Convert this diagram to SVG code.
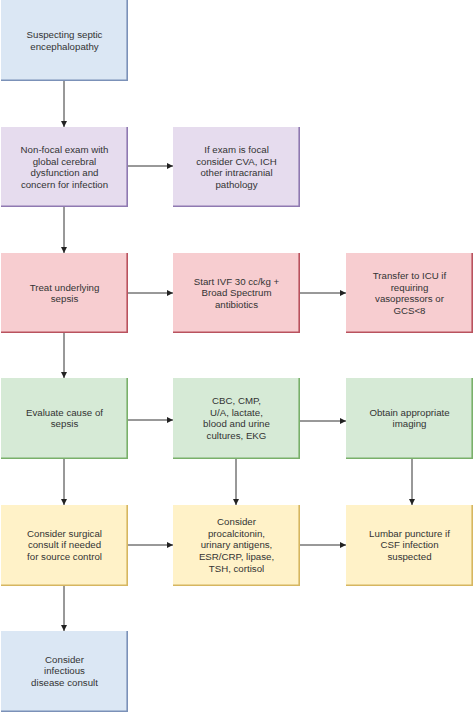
<svg xmlns="http://www.w3.org/2000/svg" width="474" height="712" viewBox="0 0 474 712">
<style>
.t{font-family:"Liberation Sans",Arial,sans-serif;font-size:9.7px;fill:#333;text-anchor:middle}
.e{fill:none;stroke-width:1.6}
.blue rect{fill:#dbe7f4}.blue path{stroke:#7b91b8}
.purple rect{fill:#e6dcee}.purple path{stroke:#8f79b1}
.red rect{fill:#f7cdd0}.red path{stroke:#b9525e}
.green rect{fill:#d6ead6}.green path{stroke:#79b06a}
.yellow rect{fill:#fff2c8}.yellow path{stroke:#d6b660}
.c line{stroke:#333;stroke-width:1;marker-end:url(#ah)}
</style>
<defs>
<marker id="ah" markerWidth="6" markerHeight="6" refX="6" refY="3" orient="auto" markerUnits="userSpaceOnUse">
<path d="M0,0 L6,3 L0,6 Z" fill="#222"/>
</marker>
</defs>
<rect width="474" height="712" fill="#fff"/>
<g class="c" id="connectors">
<line x1="64" y1="81" x2="64" y2="127"/>
<line x1="128" y1="166" x2="173" y2="166"/>
<line x1="64" y1="207" x2="64" y2="253"/>
<line x1="128" y1="293" x2="173" y2="293"/>
<line x1="300" y1="293" x2="346" y2="293"/>
<line x1="64" y1="333" x2="64" y2="378"/>
<line x1="128" y1="420" x2="173" y2="420"/>
<line x1="300" y1="421" x2="346" y2="421"/>
<line x1="64" y1="459" x2="64" y2="505"/>
<line x1="236" y1="459" x2="236" y2="505"/>
<line x1="412" y1="459" x2="412" y2="505"/>
<line x1="128" y1="545" x2="173" y2="545"/>
<line x1="300" y1="545" x2="346" y2="545"/>
<line x1="64" y1="586" x2="64" y2="631"/>
</g>
<g id="n1" class="blue"><rect x="1" y="0" width="127" height="81"/><path class="e" d="M127.2,0 V80.2 H1"/>
<text class="t" x="64.5" y="38.05">Suspecting septic<tspan x="64.5" dy="11.7">encephalopathy</tspan></text></g>
<g id="n2" class="purple"><rect x="1" y="127" width="127" height="80"/><path class="e" d="M127.2,127 V206.2 H1"/>
<text class="t" x="64.5" y="152.85">Non-focal exam with<tspan x="64.5" dy="11.7">global cerebral</tspan><tspan x="64.5" dy="11.7">dysfunction and</tspan><tspan x="64.5" dy="11.7">concern for infection</tspan></text></g>
<g id="n3" class="purple"><rect x="173" y="127" width="127" height="80"/><path class="e" d="M299.2,127 V206.2 H173"/>
<text class="t" x="236.5" y="152.85">If exam is focal<tspan x="236.5" dy="11.7">consider CVA, ICH</tspan><tspan x="236.5" dy="11.7">other intracranial</tspan><tspan x="236.5" dy="11.7">pathology</tspan></text></g>
<g id="n4" class="red"><rect x="1" y="253" width="127" height="80"/><path class="e" d="M127.2,253 V332.2 H1"/>
<text class="t" x="64.5" y="290.55">Treat underlying<tspan x="64.5" dy="11.7">sepsis</tspan></text></g>
<g id="n5" class="red"><rect x="173" y="253" width="127" height="80"/><path class="e" d="M299.2,253 V332.2 H173"/>
<text class="t" x="236.5" y="284.7">Start IVF 30 cc/kg +<tspan x="236.5" dy="11.7">Broad Spectrum</tspan><tspan x="236.5" dy="11.7">antibiotics</tspan></text></g>
<g id="n6" class="red"><rect x="346" y="253" width="127" height="80"/><path class="e" d="M472.2,253 V332.2 H346"/>
<text class="t" x="409.5" y="278.85">Transfer to ICU if<tspan x="409.5" dy="11.7">requiring</tspan><tspan x="409.5" dy="11.7">vasopressors or</tspan><tspan x="409.5" dy="11.7">GCS&lt;8</tspan></text></g>
<g id="n7" class="green"><rect x="1" y="378" width="127" height="81"/><path class="e" d="M127.2,378 V458.2 H1"/>
<text class="t" x="64.5" y="415.55">Evaluate cause of<tspan x="64.5" dy="11.7">sepsis</tspan></text></g>
<g id="n8" class="green"><rect x="173" y="378" width="127" height="81"/><path class="e" d="M299.2,378 V458.2 H173"/>
<text class="t" x="236.5" y="403.85">CBC, CMP,<tspan x="236.5" dy="11.7">U/A, lactate,</tspan><tspan x="236.5" dy="11.7">blood and urine</tspan><tspan x="236.5" dy="11.7">cultures, EKG</tspan></text></g>
<g id="n9" class="green"><rect x="346" y="378" width="127" height="81"/><path class="e" d="M472.2,378 V458.2 H346"/>
<text class="t" x="409.5" y="415.55">Obtain appropriate<tspan x="409.5" dy="11.7">imaging</tspan></text></g>
<g id="n10" class="yellow"><rect x="1" y="505" width="127" height="81"/><path class="e" d="M127.2,505 V585.2 H1"/>
<text class="t" x="64.5" y="536.7">Consider surgical<tspan x="64.5" dy="11.7">consult if needed</tspan><tspan x="64.5" dy="11.7">for source control</tspan></text></g>
<g id="n11" class="yellow"><rect x="173" y="505" width="127" height="81"/><path class="e" d="M299.2,505 V585.2 H173"/>
<text class="t" x="236.5" y="525">Consider<tspan x="236.5" dy="11.7">procalcitonin,</tspan><tspan x="236.5" dy="11.7">urinary antigens,</tspan><tspan x="236.5" dy="11.7">ESR/CRP, lipase,</tspan><tspan x="236.5" dy="11.7">TSH, cortisol</tspan></text></g>
<g id="n12" class="yellow"><rect x="346" y="505" width="127" height="81"/><path class="e" d="M472.2,505 V585.2 H346"/>
<text class="t" x="409.5" y="536.7">Lumbar puncture if<tspan x="409.5" dy="11.7">CSF infection</tspan><tspan x="409.5" dy="11.7">suspected</tspan></text></g>
<g id="n13" class="blue"><rect x="1" y="631" width="127" height="81"/><path class="e" d="M127.2,631 V711.2 H1"/>
<text class="t" x="64.5" y="662.7">Consider<tspan x="64.5" dy="11.7">infectious</tspan><tspan x="64.5" dy="11.7">disease consult</tspan></text></g>
</svg>
